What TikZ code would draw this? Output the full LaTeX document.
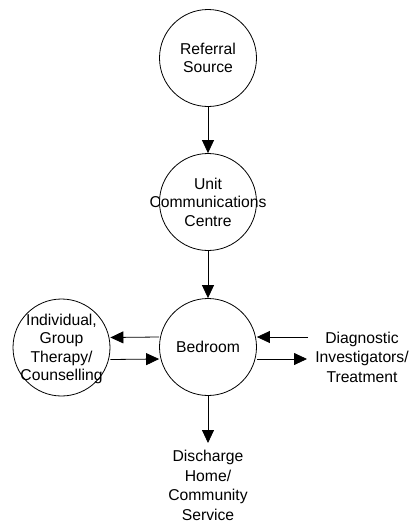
\documentclass[tikz,border=0pt]{standalone}
\usepackage{fontspec}
\setmainfont{Liberation Sans}
\usetikzlibrary{arrows.meta}
\begin{document}
\begin{tikzpicture}[x=1pt,y=-1pt,
  proc/.style={circle,draw,line width=0.8pt,minimum size=97pt,inner sep=0pt},
  lbl/.style={align=center,inner sep=0pt,font=\fontsize{15.7}{18.5}\selectfont},
  arr/.style={-{Triangle[length=13pt,width=12pt]},line width=0.8pt}]
\useasboundingbox (0,0) rectangle (411,523);
\node[proc] (ref) at (208,58) {};
\node[lbl] (refT) at (ref) {Referral\\Source};
\node[proc] (unit) at (208,202) {};
\node[lbl] (unitT) at (unit) {Unit\\Communications\\Centre};
\node[proc] (bed) at (208,347) {};
\node[lbl] (bedT) at (bed) {Bedroom};
\node[proc] (ind) at (61.5,347.5) {};
\node[lbl] (indT) at (61.5,349) {Individual,\\Group\\Therapy/\\Counselling};
\node[lbl,font=\fontsize{15.7}{19.5}\selectfont] (diag) at (362,357) {Diagnostic\\Investigators/\\Treatment};
\node[lbl,font=\fontsize{15.7}{19.5}\selectfont] (dis) at (208,485.5) {Discharge\\Home/\\Community\\Service};
\coordinate (dIn) at (308,337);
\coordinate (dOut) at (307,359);
\coordinate (disTip) at (208,443);
\draw[arr] (ref) -- (unit);
\draw[arr] (unit) -- (bed);
\draw[arr] ([yshift=10pt]bed.west) -- ([yshift=10pt]ind.east);
\draw[arr] ([yshift=-12pt]ind.east) -- ([yshift=-12pt]bed.west);
\draw[arr] (dIn) -- (dIn -| bed.east);
\draw[arr] (dOut -| bed.east) -- (dOut);
\draw[arr] (bed) -- (disTip);
\end{tikzpicture}
\end{document}
